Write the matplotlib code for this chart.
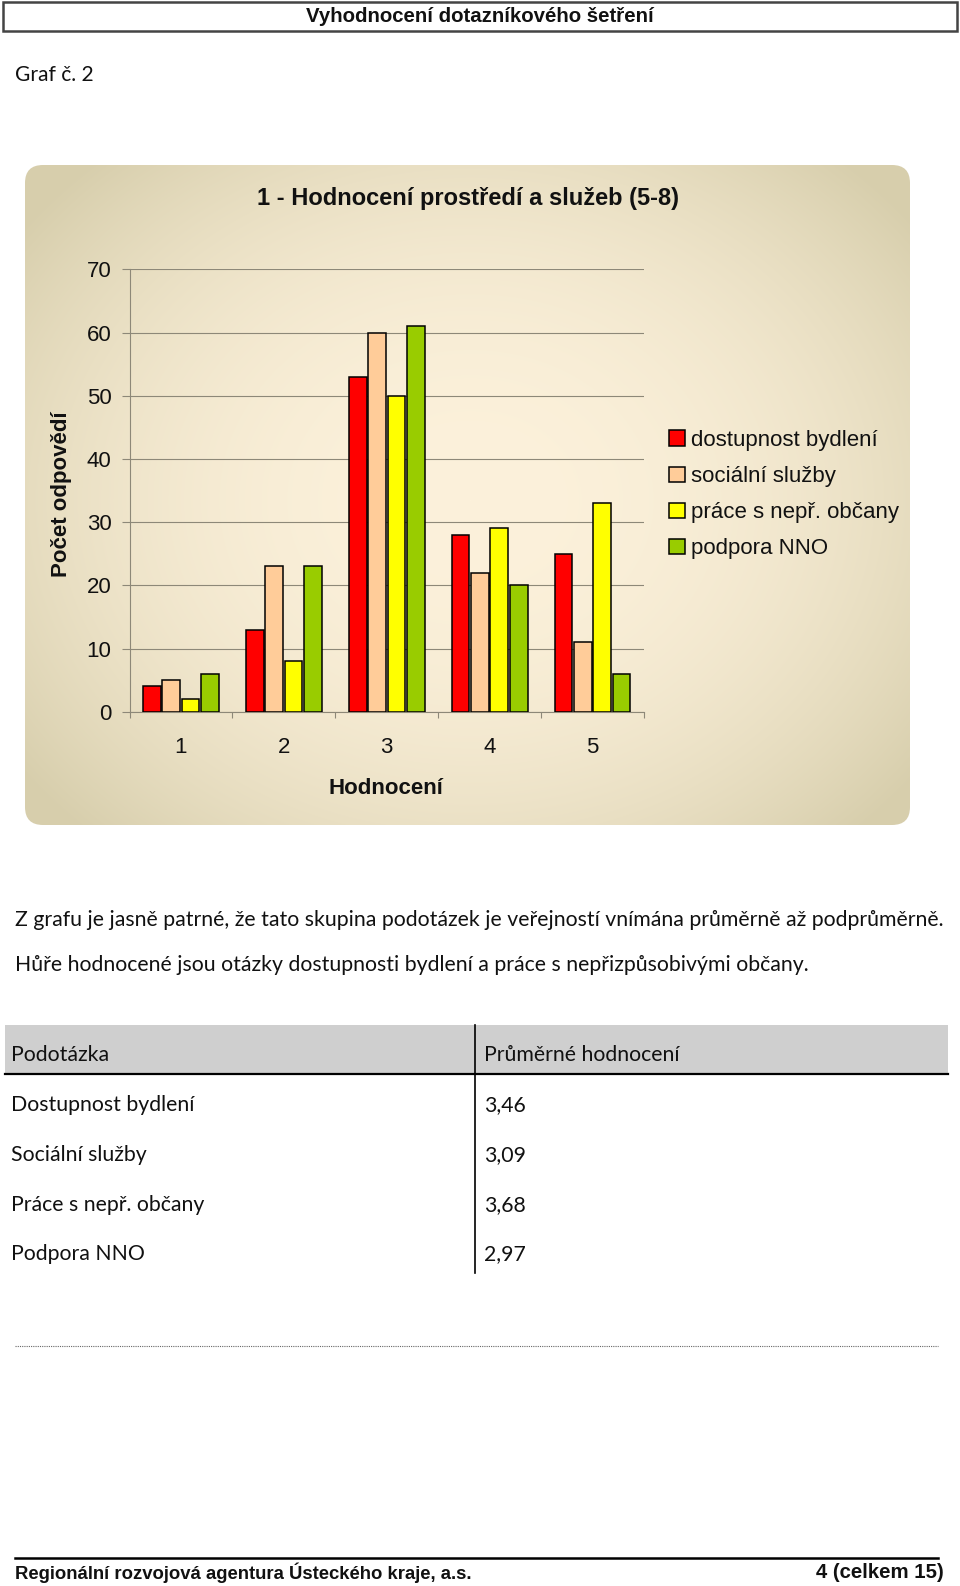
import numpy as np
import matplotlib.pyplot as plt
from matplotlib import font_manager
from matplotlib.patches import FancyBboxPatch, Rectangle

# data
ratings = ['1', '2', '3', '4', '5']
series_names = ['dostupnost bydlení', 'sociální služby', 'práce s nepř. občany', 'podpora NNO']
dostupnost_bydleni = [4, 13, 53, 28, 25]
socialni_sluzby = [5, 23, 60, 22, 11]
prace_s_nepr_obcany = [2, 8, 50, 29, 33]
podpora_nno = [6, 23, 61, 20, 6]
series_colors = ['#ff0000', '#ffcc99', '#ffff00', '#99cc00']

table_header = ['Podotázka', 'Průměrné hodnocení']
table_rows = ['Dostupnost bydlení', 'Sociální služby', 'Práce s nepř. občany', 'Podpora NNO']
table_values = ['3,46', '3,09', '3,68', '2,97']

title = '1 - Hodnocení prostředí a služeb (5-8)'
body_lines = ['Z grafu je jasně patrné, že tato skupina podotázek je veřejností vnímána průměrně až podprůměrně.',
              'Hůře hodnocené jsou otázky dostupnosti bydlení a práce s nepřizpůsobivými občany.']

W, H = 960, 1586
names = {f.name for f in font_manager.fontManager.ttflist}
narrow = 'Liberation Sans Narrow' if 'Liberation Sans Narrow' in names else 'Liberation Sans'
arial = 'Liberation Sans'
body_font = 'Lato'

fig = plt.figure(figsize=(W / 100, H / 100), dpi=100)
renderer = fig.canvas.get_renderer()

# page layer in pixel coordinates (y down)
bg = fig.add_axes([0, 0, 1, 1])
bg.set_zorder(0)
bg.axis('off')


def fit(t, width):
    w = t.get_window_extent(renderer).width
    t.set_fontsize(t.get_fontsize() * width / w)
    return t.get_fontsize()


# header
bg.add_patch(Rectangle((3, 2), 954, 29, fill=False, ec='#444444', lw=1.8))
t = bg.text(480, 17, 'Vyhodnocení dotazníkového šetření', ha='center', va='center',
            family=narrow, weight='bold', fontsize=14, color='#111111')
fit(t, 349)

t = bg.text(15, 75, 'Graf č. 2', ha='left', va='center', family=body_font, fontsize=14, color='#111111')
fit(t, 79)

# chart box with soft gradient
r = 18
box = FancyBboxPatch((25 + r, 165 + r), 885 - 2 * r, 660 - 2 * r,
                     boxstyle='round,pad=%d' % r, fc='none', ec='none')
bg.add_patch(box)
gx, gy = np.meshgrid(np.arange(25, 910), np.arange(165, 825))
tt = np.clip(np.sqrt(((gx - 470) / 560.0) ** 2 + ((gy - 500) / 460.0) ** 2), 0, 1) ** 2.2
c0 = np.array([252, 241, 219]) / 255.0
c1 = np.array([215, 206, 172]) / 255.0
grad = c0 + (c1 - c0) * tt[..., None]
im = bg.imshow(grad, extent=(25, 910, 825, 165), aspect='auto', zorder=0.5)
im.set_clip_path(box)

# table
bg.add_patch(Rectangle((5, 1025), 943, 49, fc='#cfcfcf', ec='none'))
bg.plot([5, 948], [1074, 1074], color='black', lw=1.6)
bg.plot([475, 475], [1025, 1273], color='black', lw=1.2)

# dotted separator and footer
bg.plot([15, 938], [1346, 1346], color='#666666', lw=0.8, ls=(0, (1, 1)))
bg.plot([15, 938], [1558, 1558], color='black', lw=1.8)
t = bg.text(15, 1573, 'Regionální rozvojová agentura Ústeckého kraje, a.s.', ha='left', va='center',
            family=narrow, weight='bold', fontsize=13, color='#111111')
fit(t, 457)
t = bg.text(944, 1573, '4 (celkem 15)', ha='right', va='center',
            family=narrow, weight='bold', fontsize=13, color='#111111')
fit(t, 127)

# body text
t = bg.text(15, 920, body_lines[0], ha='left', va='center', family=body_font, fontsize=14, color='#111111')
fs = fit(t, 929)
bg.text(15, 965, body_lines[1], ha='left', va='center', family=body_font, fontsize=fs, color='#111111')

bg.text(11, 1055, table_header[0], ha='left', va='center', family=body_font, fontsize=fs, color='#111111')
bg.text(484, 1055, table_header[1], ha='left', va='center', family=body_font, fontsize=fs, color='#111111')
for i in range(len(table_rows)):
    yy = 1105 + i * 49.8
    bg.text(11, yy, table_rows[i], ha='left', va='center', family=body_font, fontsize=fs, color='#111111')
    bg.text(484, yy, table_values[i], ha='left', va='center', family=body_font, fontsize=fs, color='#111111')

bg.set_xlim(0, W)
bg.set_ylim(H, 0)

# chart titles
bg.text(468, 199, title, ha='center', va='center', family=arial, weight='bold', fontsize=17, color='#111111')
bg.text(61, 494, 'Počet odpovědí', ha='center', va='center', rotation=90, family=arial,
        weight='bold', fontsize=16, color='#111111')
bg.text(386, 789, 'Hodnocení', ha='center', va='center', family=arial, weight='bold',
        fontsize=16, color='#111111')

# bar chart
ax = fig.add_axes([129.5 / W, (H - 711.7) / H, 514.5 / W, 442.4 / H])
ax.set_zorder(2)
ax.patch.set_alpha(0)

x = np.arange(1, len(ratings) + 1)
step = 0.188
width = 0.172
all_series = [dostupnost_bydleni, socialni_sluzby, prace_s_nepr_obcany, podpora_nno]
for i, vals in enumerate(all_series):
    ax.bar(x + (i - 1.5) * step, vals, width, color=series_colors[i], edgecolor='black',
           linewidth=1.1, label=series_names[i], zorder=3)

gray = '#8d8878'
ax.set_xlim(0.5, 5.5)
ax.set_ylim(0, 70)
ax.set_yticks(range(0, 71, 10))
ax.set_xticks(x)
ax.set_xticklabels(ratings)
ax.set_xticks(np.arange(0.5, 5.6, 1), minor=True)
ax.grid(axis='y', color=gray, lw=0.8)
ax.set_axisbelow(True)
for s in ['top', 'right']:
    ax.spines[s].set_visible(False)
for s in ['left', 'bottom']:
    ax.spines[s].set_color(gray)
    ax.spines[s].set_linewidth(0.8)
ax.tick_params(axis='y', direction='out', length=6, width=0.8, color=gray, pad=7,
               labelsize=16, labelcolor='#111111')
ax.tick_params(axis='x', which='major', length=0, pad=18, labelsize=16, labelcolor='#111111')
ax.tick_params(axis='x', which='minor', direction='out', length=4.5, width=0.8, color=gray)
for lab in ax.get_xticklabels() + ax.get_yticklabels():
    lab.set_family(arial)

leg = ax.legend(loc='upper left', bbox_to_anchor=(669 / W, 1 - 430 / H), bbox_transform=fig.transFigure,
                frameon=False, prop={'family': arial, 'size': 16}, handlelength=0.7, handleheight=0.7,
                handletextpad=0.3, labelspacing=0.68, borderpad=0, borderaxespad=0)
for txt in leg.get_texts():
    txt.set_color('#111111')

fig.savefig('out.png', dpi=100)
